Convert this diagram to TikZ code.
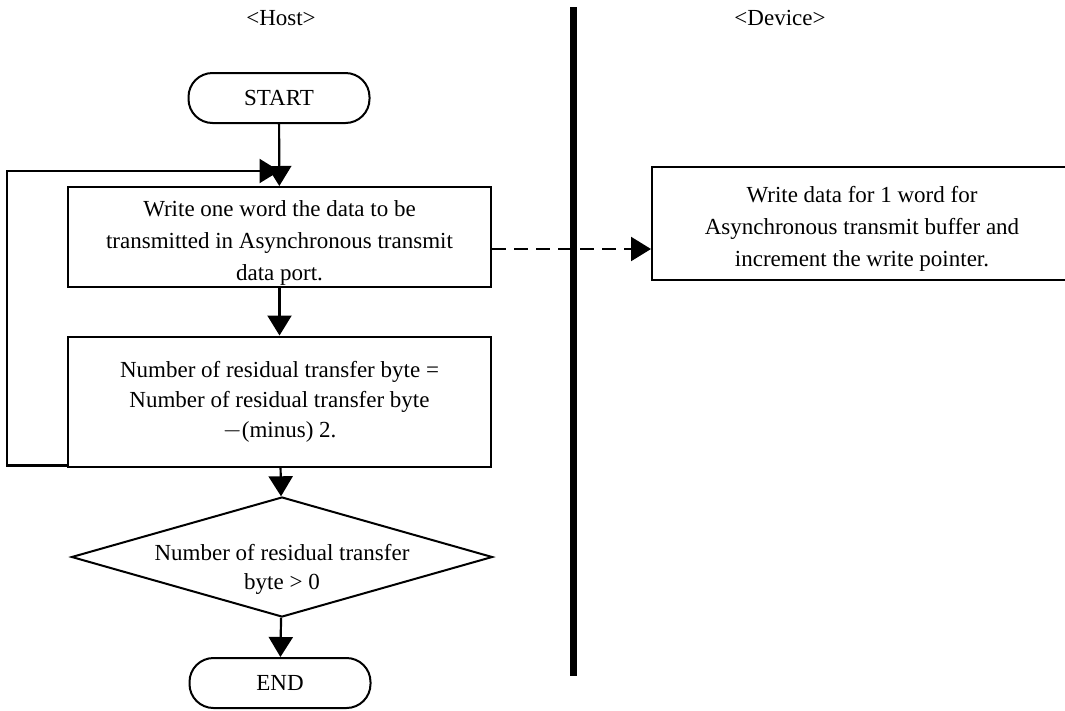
\documentclass[tikz,border=0pt]{standalone}
\usepackage{fontspec}
\setmainfont{Liberation Serif}
\usetikzlibrary{arrows.meta,shapes.geometric}

\begin{document}
\begin{tikzpicture}[x=1pt, y=-1pt]
    \tikzstyle{every node}=[font=\fontsize{23}{32}\selectfont, align=center, text=black]
    \tikzstyle{terminal}=[draw=black, line width=2pt, rounded corners=24pt, minimum width=181pt, minimum height=50pt, inner sep=0pt]
    \tikzstyle{process}=[draw=black, line width=2pt, minimum width=423pt, inner sep=0pt]
    \tikzstyle{decision}=[draw=black, line width=2pt, diamond, minimum width=421pt, minimum height=120pt, inner sep=0pt]
    \tikzstyle{edge}=[black, line width=2.2pt, -{Triangle[length=20pt, width=24pt]}]

    \useasboundingbox (0,0) rectangle (1065,710);
    \clip (0,0) rectangle (1065,710);

    \node (host) at (281,18) {<Host>};
    \node (device) at (780,18) {<Device>};

    \coordinate (lanetop) at (573,7);
    \coordinate (lanebot) at (573,676);

    \node[terminal] (start) at (279,98) {START};
    \node[process, minimum height=100pt, label={[yshift=-6pt]center:Write one word the data to be\\transmitted in Asynchronous transmit\\data port.}] (write) at (279.5,237) {};
    \node[process, minimum height=130pt, font=\fontsize{23}{30}\selectfont] (residual) at (279.5,401.5) {Number of residual transfer byte =\\Number of residual transfer byte\\$-$(minus) 2.};
    \node[decision, label={[yshift=-12pt, font=\fontsize{23}{29}\selectfont]center:Number of residual transfer\\byte > 0}] (check) at (282,557) {};
    \node[terminal] (end) at (280,683) {END};
    \node[process, minimum width=420pt, minimum height=113pt, label={[yshift=-5pt]center:Write data for 1 word for\\Asynchronous transmit buffer and\\increment the write pointer.}] (devwrite) at (862,223.5) {};

    \draw[edge] (start) -- (write);
    \draw[edge] (write) -- (residual);
    \draw[edge] (residual) -- (check);
    \draw[edge] (check) -- (end);
    \draw[edge] ([yshift=2pt]residual.south west) -- ++(-60,0) |- ([yshift=15pt]write.north);
    \draw[edge, dash pattern=on 14pt off 8pt] ([yshift=-12pt]write.east) -- ([yshift=-12pt]write.east -| devwrite.west);

    \draw[black, line width=7pt] (lanetop) -- (lanebot);
\end{tikzpicture}
\end{document}
